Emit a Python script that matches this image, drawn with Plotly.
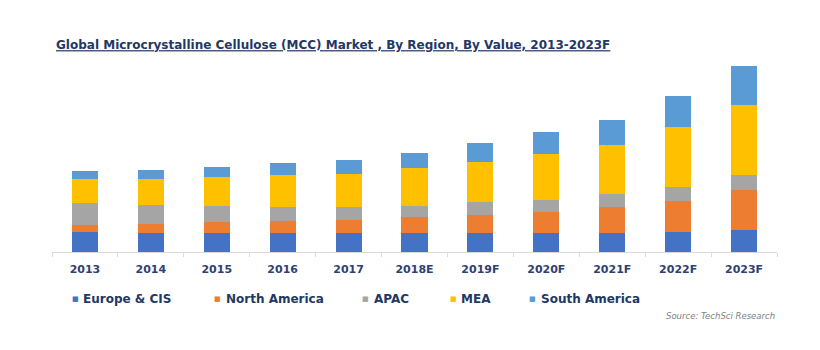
import plotly.graph_objects as go

years = ["2013", "2014", "2015", "2016", "2017", "2018E", "2019F", "2020F", "2021F", "2022F", "2023F"]
europe_cis = [20.5, 19.2, 19.2, 19.2, 19.2, 19.2, 19.2, 19.2, 19.2, 20.5, 21.8]
north_america = [6.3, 9.3, 10.6, 11.6, 13.3, 15.6, 18.0, 20.6, 26.3, 31.0, 40.4]
apac = [22.0, 19.0, 16.4, 14.0, 12.3, 11.4, 12.6, 12.7, 12.7, 14.0, 15.0]
mea = [24.4, 25.7, 28.6, 32.7, 33.7, 38.0, 40.4, 45.3, 48.6, 59.7, 70.0]
south_america = [8.3, 9.3, 10.4, 11.3, 14.0, 15.0, 19.3, 22.4, 25.7, 30.6, 39.0]

series_names = ["Europe & CIS", "North America", "APAC", "MEA", "South America"]
series_values = [europe_cis, north_america, apac, mea, south_america]
series_colors = ["#4472C4", "#ED7D31", "#A5A5A5", "#FFC000", "#5B9BD5"]

title_text = "Global Microcrystalline Cellulose (MCC) Market , By Region, By Value, 2013-2023F"
source_text = "Source: TechSci Research"

W, H = 820, 350
NAVY = "#1F3864"
FONT = "DejaVu Sans"

fig = go.Figure()
for name, vals, col in zip(series_names, series_values, series_colors):
    fig.add_trace(go.Bar(
        x=years, y=vals, name=name,
        marker=dict(color=col, line=dict(width=0)),
        showlegend=False,
    ))

# legend drawn as text items (marker square + label)
legend_marker_x = [75.5, 217.5, 365.5, 453.0, 532.0]
legend_text_x = [81.0, 224.0, 372.0, 459.0, 539.0]
legend_y = 299
annotations = []
for name, col, mx, tx in zip(series_names, series_colors, legend_marker_x, legend_text_x):
    annotations.append(dict(
        x=mx / W, y=1 - legend_y / H, xref="paper", yref="paper",
        text="■", showarrow=False, xanchor="center", yanchor="middle",
        font=dict(family=FONT, size=7, color=col),
    ))
    annotations.append(dict(
        x=tx / W, y=1 - legend_y / H, xref="paper", yref="paper",
        text="<b>%s</b>" % name, showarrow=False, xanchor="left", yanchor="middle",
        font=dict(family=FONT, size=12, color=NAVY),
    ))

annotations.append(dict(
    x=777 / W, y=1 - 316 / H, xref="paper", yref="paper",
    text="<i>%s</i>" % source_text, showarrow=False, xanchor="right", yanchor="middle",
    font=dict(family=FONT, size=8.5, color="#808080"),
))

# map pixel positions to paper coordinates of the plot area
ml, mr, mt, mb = 52, 43, 60, 98
pw, ph = W - ml - mr, H - mt - mb
for a in annotations:
    px = a["x"] * W
    py = (1 - a["y"]) * H
    a["x"] = (px - ml) / pw
    a["y"] = 1 - (py - mt) / ph

fig.update_layout(
    width=W, height=H,
    margin=dict(l=ml, r=mr, t=mt, b=mb, pad=0),
    paper_bgcolor="white", plot_bgcolor="white",
    barmode="stack", bargap=0.605,
    title=dict(
        text="<b>%s</b>" % title_text,
        x=56 / W, xanchor="left", xref="container",
        y=1 - 45 / H, yanchor="middle", yref="container",
        font=dict(family=FONT, size=12, color=NAVY, lineposition="under"),
    ),
    xaxis=dict(
        type="category",
        showline=True, linecolor="#D9D9D9", linewidth=1,
        ticks="outside", tickson="boundaries", ticklen=4, tickcolor="#D9D9D9",
        showgrid=False, zeroline=False,
        tickfont=dict(family=FONT, size=11, color="#2F4172", weight="bold"),
        ticklabelstandoff=7,
    ),
    yaxis=dict(visible=False, range=[0, ph], showgrid=False, zeroline=False),
    annotations=annotations,
    showlegend=False,
)

fig.write_html("out.html")
